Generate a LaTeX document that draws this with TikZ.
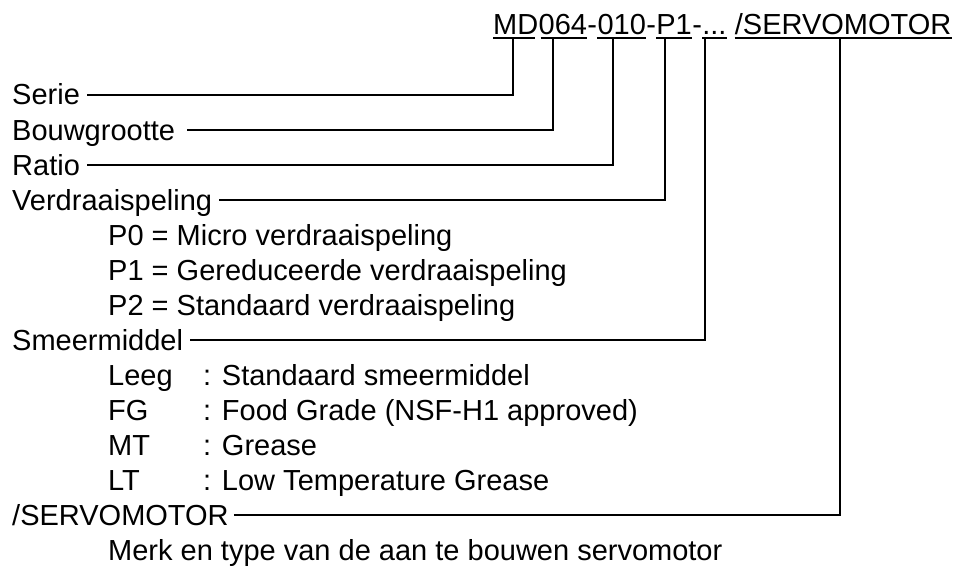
\documentclass[tikz,border=0pt]{standalone}
\usepackage{fontspec}
\setmainfont{Liberation Sans}
\begin{document}
\begin{tikzpicture}[x=1pt,y=-1pt,
  txt/.style={anchor=west, inner sep=0pt, text height=22pt, text depth=2pt, font=\fontsize{29}{34}\selectfont},
  code/.style={anchor=base west, inner sep=0pt, text depth=3pt, font=\fontsize{29}{34}\selectfont},
  conn/.style={line width=2.3pt, shorten <=7pt},
  uline/.style={line width=1.9pt}]
\useasboundingbox (0,0) rectangle (957,567);
% title code
\node[code] (t1) at (493,35) {MD};
\node[code] (t2) at (t1.base east) {064};
\node[code] (d1) at (t2.base east) {-};
\node[code] (t3) at (d1.base east) {010};
\node[code] (d2) at (t3.base east) {-};
\node[code] (t4) at (d2.base east) {P1};
\node[code] (d3) at (t4.base east) {-};
\node[code] (t5) at (d3.base east) {...};
\node[code] (t6) at ([xshift=8pt]t5.base east) {/SERVOMOTOR};
\draw[uline] (t1.south west) -- ([xshift=-4pt]t1.south east);
\draw[uline] ([xshift=2pt]t2.south west) -- (t2.south east);
\foreach \n in {t3,t4,t5,t6}
  \draw[uline] (\n.south west) -- (\n.south east);
\coordinate (c1) at (513,38);
\coordinate (c2) at (553,38);
\coordinate (c3) at (613,38);
\coordinate (c4) at (665,38);
\coordinate (c5) at (705,38);
\coordinate (c6) at (840,38);
% labels
\node[txt] (serie) at (12,95) {Serie};
\node[txt] (bouw) at (12,130) {Bouwgrootte};
\node[txt] (ratio) at (12,165) {Ratio};
\node[txt] (verd) at (12,200) {Verdraaispeling};
\node[txt] (p0) at (108,235) {P0 = Micro verdraaispeling};
\node[txt] (p1) at (108,270) {P1 = Gereduceerde verdraaispeling};
\node[txt] (p2) at (108,305) {P2 = Standaard verdraaispeling};
\node[txt] (smeer) at (12,340) {Smeermiddel};
\node[txt] (leeg) at (108,375) {\makebox[95pt][l]{Leeg}: Standaard smeermiddel};
\node[txt] (fg) at (108,410) {\makebox[95pt][l]{FG}: Food Grade (NSF-H1 approved)};
\node[txt] (mt) at (108,445) {\makebox[95pt][l]{MT}: Grease};
\node[txt] (lt) at (108,480) {\makebox[95pt][l]{LT}: Low Temperature Grease};
\node[txt] (servo) at (12,515) {/SERVOMOTOR};
\node[txt] (merk) at (108,550) {Merk en type van de aan te bouwen servomotor};
% connectors
\draw[conn] (serie.east) -| (c1);
\draw[conn, shorten <=12pt] (bouw.east) -| (c2);
\draw[conn] (ratio.east) -| (c3);
\draw[conn] (verd.east) -| (c4);
\draw[conn] (smeer.east) -| (c5);
\draw[conn, shorten <=5pt] (servo.east) -| (c6);
\end{tikzpicture}
\end{document}
